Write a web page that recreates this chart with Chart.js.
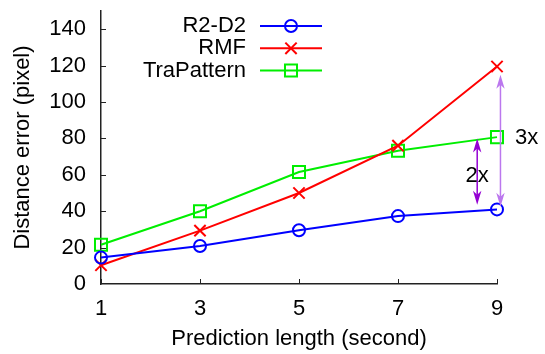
<!DOCTYPE html>
<html>
<head>
<meta charset="utf-8">
<script src="https://cdn.jsdelivr.net/npm/chart.js@4/dist/chart.umd.min.js"></script>
<style>
  body { margin: 0; background: #fff; }
  #wrap { width: 545px; height: 354px; position: relative; }
</style>
</head>
<body>
<div id="wrap"><canvas id="myChart"></canvas></div>
<script>
// data
const predictionLength = [1, 3, 5, 7, 9];
const r2d2 = [14.5, 20.9, 29.5, 37.3, 41];
const rmf = [10.3, 29.3, 50, 76, 119.5];
const traPattern = [21.6, 40, 61.5, 73.2, 80.7];
const xTicks = [1, 3, 5, 7, 9];
const yTicks = [0, 20, 40, 60, 80, 100, 120, 140];

// the two "gap" arrows: x position, from, to (in data units)
const arrows = [
  { x: 8.6, from: 80, to: 43.5, color: '#9400d3', label: '2x', lx: 8.6, ly: 59.6 },
  { x: 9.07, from: 115, to: 42.5, color: '#bb77ee', label: '3x', lx: 9.6, ly: 80.4 }
];

const FONT = 'Liberation Sans, Arial, Helvetica, sans-serif';

function toPoints(ys) {
  return predictionLength.map((x, i) => ({ x: x, y: ys[i] }));
}

function drawMarker(ctx, style, x, y, r, color) {
  ctx.save();
  ctx.strokeStyle = color;
  ctx.lineWidth = 2;
  ctx.beginPath();
  if (style === 'circle') {
    ctx.arc(x, y, r, 0, Math.PI * 2);
  } else if (style === 'rect') {
    const s = Math.SQRT1_2 * r;
    ctx.rect(x - s, y - s, 2 * s, 2 * s);
  } else {
    const s = Math.SQRT1_2 * r;
    ctx.moveTo(x - s, y - s); ctx.lineTo(x + s, y + s);
    ctx.moveTo(x + s, y - s); ctx.lineTo(x - s, y + s);
  }
  ctx.stroke();
  ctx.restore();
}

function arrowHead(ctx, x, yTip, dir) {
  // dir = -1 pointing up, +1 pointing down
  const len = 14, half = 4.2, notch = 10;
  ctx.beginPath();
  ctx.moveTo(x, yTip);
  ctx.lineTo(x - half, yTip - dir * len);
  ctx.lineTo(x, yTip - dir * notch);
  ctx.lineTo(x + half, yTip - dir * len);
  ctx.closePath();
  ctx.fill();
}

const extras = {
  id: 'extras',
  afterDraw(chart) {
    const ctx = chart.ctx;
    const xs = chart.scales.x, ys = chart.scales.y;
    const area = chart.chartArea;

    // inward tick marks
    ctx.save();
    ctx.strokeStyle = '#222';
    ctx.lineWidth = 1;
    ctx.beginPath();
    yTicks.forEach(v => {
      if (v === 0) return;
      const py = Math.round(ys.getPixelForValue(v)) + 0.5;
      ctx.moveTo(area.left, py); ctx.lineTo(area.left + 5, py);
    });
    xTicks.forEach(v => {
      const px = Math.round(xs.getPixelForValue(v)) + 0.5;
      ctx.moveTo(px, area.bottom); ctx.lineTo(px, area.bottom - 5);
    });
    ctx.stroke();
    ctx.restore();

    // arrows and their labels
    ctx.save();
    arrows.forEach(a => {
      const px = xs.getPixelForValue(a.x);
      const top = ys.getPixelForValue(a.from);
      const bot = ys.getPixelForValue(a.to);
      ctx.strokeStyle = a.color;
      ctx.fillStyle = a.color;
      ctx.lineWidth = 1.5;
      ctx.beginPath();
      ctx.moveTo(px, top + 8); ctx.lineTo(px, bot - 8);
      ctx.stroke();
      arrowHead(ctx, px, top, -1);
      arrowHead(ctx, px, bot, 1);
      ctx.fillStyle = '#000';
      ctx.font = '22px ' + FONT;
      ctx.textAlign = 'center';
      ctx.textBaseline = 'middle';
      ctx.fillText(a.label, xs.getPixelForValue(a.lx), ys.getPixelForValue(a.ly));
    });
    ctx.restore();

    // legend: text on the left, line sample with marker on the right
    ctx.save();
    ctx.font = '22px ' + FONT;
    ctx.textAlign = 'right';
    ctx.textBaseline = 'middle';
    chart.data.datasets.forEach((ds, i) => {
      const y = 26 + i * 22.3;
      ctx.fillStyle = '#000';
      ctx.fillText(ds.label, 246, y);
      ctx.strokeStyle = ds.borderColor;
      ctx.lineWidth = 2;
      ctx.beginPath();
      ctx.moveTo(260, y); ctx.lineTo(322, y);
      ctx.stroke();
      drawMarker(ctx, ds.pointStyle, 291, y, ds.pointRadius, ds.borderColor);
    });
    ctx.restore();
  }
};

const ctx = document.getElementById('myChart').getContext('2d');

new Chart(ctx, {
  type: 'line',
  data: {
    datasets: [
      {
        label: 'R2-D2',
        data: toPoints(r2d2),
        borderColor: '#0000ff',
        backgroundColor: 'transparent',
        pointStyle: 'circle',
        pointRadius: 6,
        pointBorderWidth: 2,
        borderWidth: 2,
        clip: false
      },
      {
        label: 'RMF',
        data: toPoints(rmf),
        borderColor: '#ff0000',
        backgroundColor: 'transparent',
        pointStyle: 'crossRot',
        pointRadius: 8,
        pointBorderWidth: 2,
        borderWidth: 2,
        clip: false
      },
      {
        label: 'TraPattern',
        data: toPoints(traPattern),
        borderColor: '#00ee00',
        backgroundColor: 'transparent',
        pointStyle: 'rect',
        pointRadius: 8.5,
        pointBorderWidth: 2,
        borderWidth: 2,
        clip: false
      }
    ]
  },
  options: {
    responsive: true,
    maintainAspectRatio: false,
    animation: false,
    events: [],
    layout: { padding: { top: 11, right: 48, left: 0, bottom: 0 } },
    plugins: {
      legend: { display: false },
      tooltip: { enabled: false }
    },
    scales: {
      x: {
        type: 'linear',
        min: 1,
        max: 9,
        afterBuildTicks: s => { s.ticks = xTicks.map(v => ({ value: v })); },
        afterFit: s => {
          s.height = 70;
          s.paddingLeft = 0; s.paddingRight = 0; s.paddingTop = 0; s.paddingBottom = 0;
        },
        grid: { display: false, drawTicks: false },
        border: { display: true, color: '#222', width: 1.5 },
        ticks: { color: '#000', padding: 12, font: { family: FONT, size: 22 } },
        title: {
          display: true,
          text: 'Prediction length (second)',
          color: '#000',
          font: { family: FONT, size: 22 },
          padding: { top: 0, bottom: 2 }
        }
      },
      y: {
        min: 0,
        max: 150,
        afterBuildTicks: s => { s.ticks = yTicks.map(v => ({ value: v })); },
        afterFit: s => {
          s.width = 101;
          s.paddingLeft = 0; s.paddingRight = 0; s.paddingTop = 0; s.paddingBottom = 0;
        },
        grid: { display: false, drawTicks: false },
        border: { display: true, color: '#222', width: 1.5 },
        ticks: { color: '#000', padding: 15, font: { family: FONT, size: 22 } },
        title: {
          display: true,
          text: 'Distance error (pixel)',
          color: '#000',
          font: { family: FONT, size: 22 },
          padding: { top: 10, bottom: 0 }
        }
      }
    }
  },
  plugins: [extras]
});
</script>
</body>
</html>
